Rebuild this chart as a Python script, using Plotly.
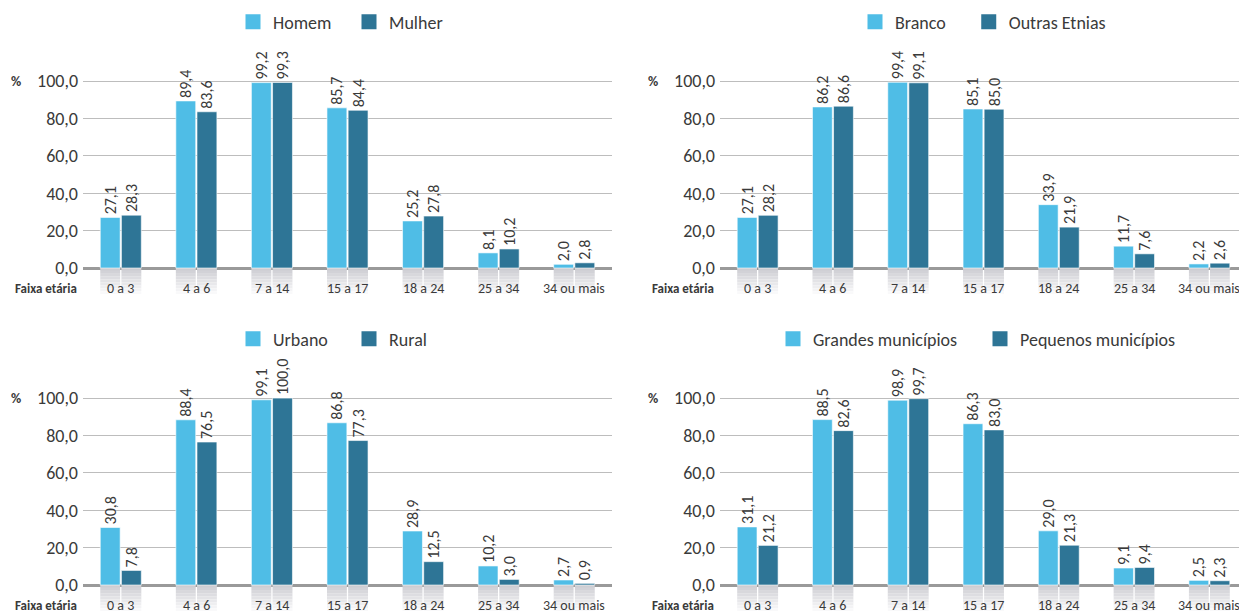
import plotly.graph_objects as go

categories = ["0 a 3", "4 a 6", "7 a 14", "15 a 17", "18 a 24", "25 a 34", "34 ou mais"]

homem = [27.1, 89.4, 99.2, 85.7, 25.2, 8.1, 2.0]
mulher = [28.3, 83.6, 99.3, 84.4, 27.8, 10.2, 2.8]

branco = [27.1, 86.2, 99.4, 85.1, 33.9, 11.7, 2.2]
outras_etnias = [28.2, 86.6, 99.1, 85.0, 21.9, 7.6, 2.6]

urbano = [30.8, 88.4, 99.1, 86.8, 28.9, 10.2, 2.7]
rural = [7.8, 76.5, 100.0, 77.3, 12.5, 3.0, 0.9]

grandes = [31.1, 88.5, 98.9, 86.3, 29.0, 9.1, 2.5]
pequenos = [21.2, 82.6, 99.7, 83.0, 21.3, 9.4, 2.3]

y_ticks = [0, 20, 40, 60, 80, 100]

panels = [
    ("Homem", homem, "Mulher", mulher),
    ("Branco", branco, "Outras Etnias", outras_etnias),
    ("Urbano", urbano, "Rural", rural),
    ("Grandes municípios", grandes, "Pequenos municípios", pequenos),
]

LIGHT = "#4FBDE6"
DARK = "#2E7596"
TXT = "#3A3A3A"
FONT = "Carlito, Calibri, Lato, sans-serif"

# page body has an 8px margin: figure occupies 8..1247 x 8..614
W, H = 1239, 606
YMIN, YMAX = -15.5, 122.0
SHADOW_DEPTH = 15.5
N_SLICES = 10

# pixel geometry of the panels (figure coordinates)
x_doms = [(75, 604), (712, 1239)]
y_tops = [32, 349]  # top pixel of plot area
plot_h = 257
legend_left = [225, 847, 225, 765]     # legend left edge per panel (px)
legend_entry = [71, 0, 71, 162]        # entry text width per panel (px, 0 = auto)
legend_pad = ["", "\u2003", "", ""]    # extra spacing after first entry (auto width)

fig = go.Figure()
layout = dict(
    width=W, height=H,
    margin=dict(l=0, r=0, t=0, b=0, autoexpand=False),
    paper_bgcolor="white", plot_bgcolor="white",
    barmode="group", bargap=0.44, bargroupgap=0.06,
    separators=",.",
    font=dict(family=FONT, color=TXT, size=14),
    annotations=[],
)

for i, (n1, v1, n2, v2) in enumerate(panels):
    col = i % 2
    row = i // 2
    sfx = "" if i == 0 else str(i + 1)
    xa = "x" + sfx
    ya = "y" + sfx
    leg = "legend" + sfx
    x0, x1 = x_doms[col]
    top = y_tops[row]
    bot = top + plot_h
    xd = [x0 / W, x1 / W]
    yd = [max(0.0, 1 - bot / H), 1 - top / H]

    # shadow slices below zero (gradient)
    for k in range(N_SLICES):
        step = SHADOW_DEPTH / N_SLICES
        t = k / (N_SLICES - 1)
        c = int(205 + (255 - 205) * t)
        cb = int(210 + (255 - 210) * t)
        color = f"rgb({c},{c},{cb})"
        for og in ("a", "b"):
            fig.add_trace(go.Bar(
                x=categories, y=[-step] * len(categories), base=[-k * step] * len(categories),
                offsetgroup=og, marker=dict(color=color, line=dict(width=0)),
                showlegend=False, hoverinfo="skip", xaxis=xa, yaxis=ya,
            ))

    for j, (name, vals, color, og) in enumerate(((n1, v1, LIGHT, "a"), (n2, v2, DARK, "b"))):
        fig.add_trace(go.Bar(
            x=categories, y=vals, name=name, offsetgroup=og,
            marker=dict(color=color, line=dict(color="rgba(255,255,255,0.6)", width=1)),
            texttemplate="%{y:.1f}", textposition="outside", textangle=-90,
            textfont=dict(family=FONT, size=16, color=TXT),
            cliponaxis=False, constraintext="none", showlegend=False,
            xaxis=xa, yaxis=ya,
        ))
        # legend swatch (square, larger than bar default)
        fig.add_trace(go.Scatter(
            x=[None], y=[None], mode="markers",
            name=name + (legend_pad[i] if j == 0 else ""),
            marker=dict(symbol="square", size=15, color=color),
            legend=leg, xaxis=xa, yaxis=ya, hoverinfo="skip",
        ))

    layout["xaxis" + sfx] = dict(
        domain=xd, anchor=ya, showticklabels=False, showgrid=False,
        showline=False, zeroline=False, ticks="", fixedrange=True,
    )
    layout["yaxis" + sfx] = dict(
        domain=yd, anchor=xa, range=[YMIN, YMAX], tickvals=y_ticks,
        tickformat=".1f", showgrid=True, gridcolor="#BDBDBD", gridwidth=1,
        zeroline=True, zerolinecolor="#9A9A9A", zerolinewidth=2.5,
        showline=False, ticks="", ticklabelstandoff=4,
        tickfont=dict(family=FONT, size=18, color=TXT), fixedrange=True,
    )
    legd = dict(
        orientation="h", x=legend_left[i] / W, xanchor="left",
        y=1 - (14 + 317 * row) / H, yanchor="middle",
        itemsizing="trace",
        font=dict(family=FONT, size=18, color=TXT), bgcolor="rgba(0,0,0,0)",
        itemclick=False, itemdoubleclick=False,
    )
    if legend_entry[i]:
        legd.update(entrywidth=legend_entry[i], entrywidthmode="pixels")
    layout[leg] = legd

    # category labels inside the shadow
    for cat in categories:
        layout["annotations"].append(dict(
            x=cat, y=-11.2, xref=xa, yref=ya, text=cat, showarrow=False,
            font=dict(family=FONT, size=14, color=TXT), xanchor="center", yanchor="middle",
        ))
    # axis caption "Faixa etária"
    layout["annotations"].append(dict(
        x=(x0 - 70) / W, y=-11.2, xref="paper", yref=ya, text="<b>Faixa etária</b>",
        showarrow=False, font=dict(family=FONT, size=13, color=TXT),
        xanchor="left", yanchor="middle",
    ))
    # unit "%"
    layout["annotations"].append(dict(
        x=(x0 - 67) / W, y=100, xref="paper", yref=ya, text="<b>%</b>",
        showarrow=False, font=dict(family=FONT, size=14, color=TXT),
        xanchor="center", yanchor="middle",
    ))

fig.update_layout(**layout)
fig.write_html("out.html")
